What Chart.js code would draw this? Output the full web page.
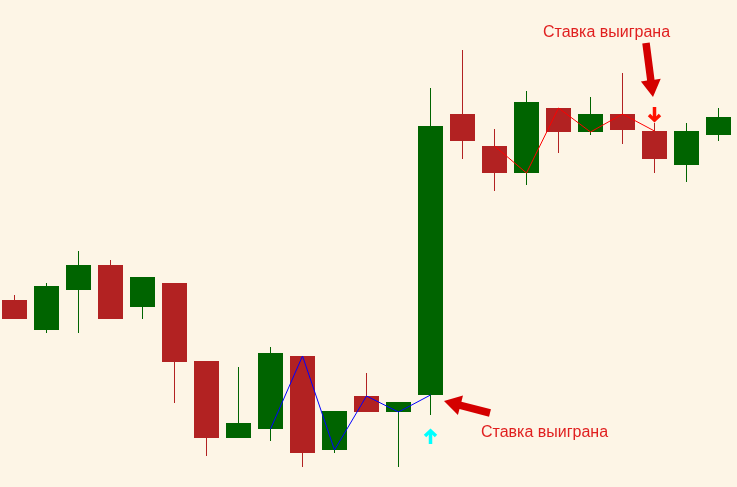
<!DOCTYPE html>
<html><head><meta charset="utf-8">
<script src="https://cdn.jsdelivr.net/npm/chart.js@4.4.1/dist/chart.umd.min.js"></script>
<style>html,body{margin:0;padding:0;background:#fdf5e6;overflow:hidden}canvas{display:block}</style>
</head><body><canvas id="c" width="737" height="487"></canvas>
<script>
// candle index (bars, left to right)
const bars  = [0,1,2,3,4,5,6,7,8,9,10,11,12,13,14,15,16,17,18,19,20,21,22];
const open  = [187,157,197,222,180,204,126, 49, 58,131, 37, 91, 75, 92,373,341,314,379,355,373,356,322,352];
const high  = [192,204,236,227,210,204,126,120,140,131, 76,114, 85,399,437,358,396,379,390,414,364,364,379];
const low   = [168,154,154,168,168, 84, 31, 49, 46, 20, 34, 75, 20, 72,328,296,302,334,352,343,314,305,346];
const close = [168,201,222,168,210,125, 49, 64,134, 34, 76, 75, 85,361,346,314,385,355,373,357,328,356,370];
// zigzag lines through the opens
const blueLineBars = [8,9,10,11,12,13];
const redLineBars  = [15,16,17,18,19,20];
// signals
const buySignalBar = 13;   // won bet, cyan up arrow below
const sellSignalBar = 20;  // won bet, red down arrow above
const labelText = "Ставка выиграна";

const UP = '#006400', DOWN = '#b22222';
const col = bars.map(i => close[i] >= open[i] ? UP : DOWN);

function blockArrow(ctx, x1, y1, x2, y2, shaft, head, headLen, color){
  const ang = Math.atan2(y2 - y1, x2 - x1);
  const len = Math.hypot(x2 - x1, y2 - y1);
  ctx.save();
  ctx.translate(x1, y1); ctx.rotate(ang);
  ctx.beginPath();
  ctx.moveTo(0, -shaft/2);
  ctx.lineTo(len - headLen, -shaft/2);
  ctx.lineTo(len - headLen, -head/2);
  ctx.lineTo(len, 0);
  ctx.lineTo(len - headLen, head/2);
  ctx.lineTo(len - headLen, shaft/2);
  ctx.lineTo(0, shaft/2);
  ctx.closePath();
  ctx.fillStyle = color; ctx.fill();
  ctx.restore();
}
function smallArrow(ctx, x, yTip, dir, color){
  // dir = -1 pointing up, +1 pointing down
  ctx.save();
  ctx.strokeStyle = color; ctx.lineWidth = 3.5; ctx.lineCap = 'butt'; ctx.lineJoin = 'miter';
  ctx.beginPath();
  ctx.moveTo(x, yTip - dir*2); ctx.lineTo(x, yTip - dir*14);
  ctx.stroke();
  ctx.beginPath();
  ctx.moveTo(x - 5.5, yTip - dir*6); ctx.lineTo(x, yTip - dir*0.8); ctx.lineTo(x + 5.5, yTip - dir*6);
  ctx.stroke();
  ctx.restore();
}

const annot = {
  id: 'annot',
  afterDatasetsDraw(chart){
    const ctx = chart.ctx, xs = chart.scales.x, ys = chart.scales.y;
    // sell signal
    const sx = xs.getPixelForValue(sellSignalBar), sHigh = ys.getPixelForValue(high[sellSignalBar]);
    smallArrow(ctx, sx, sHigh - 2, 1, '#ff1000');
    blockArrow(ctx, sx - 8.5, sHigh - 80, sx - 1.5, sHigh - 26, 7.5, 20, 17, '#d40000');
    // buy signal
    const bx = xs.getPixelForValue(buySignalBar), bLow = ys.getPixelForValue(low[buySignalBar]);
    const bOpen = ys.getPixelForValue(open[buySignalBar]);
    smallArrow(ctx, bx, bLow + 15, -1, '#00ffff');
    blockArrow(ctx, bx + 59.5, bOpen + 18, bx + 13.5, bOpen + 6, 7.5, 20, 17, '#d40000');
    ctx.save();
    ctx.font = '16px "Liberation Sans", Arial, sans-serif';
    ctx.fillStyle = '#e01f1f';
    ctx.textBaseline = 'alphabetic';
    ctx.fillText(labelText, sx - 111.5, 37);
    ctx.fillText(labelText, bx + 50.5, 437);
    ctx.restore();
  }
};

new Chart(document.getElementById('c'), {
  data: {
    datasets: [
      { type:'line', order:0, data: blueLineBars.map(i => ({x:i, y:open[i]})),
        borderColor:'#0000ff', borderWidth:1, pointRadius:0, tension:0, fill:false },
      { type:'line', order:0, data: redLineBars.map(i => ({x:i, y:open[i]})),
        borderColor:'#ff0000', borderWidth:1, pointRadius:0, tension:0, fill:false },
      { type:'bar', order:1, grouped:false, barThickness:25, inflateAmount:0, borderWidth:0,
        data: bars.map(i => ({x:i, y:[open[i], close[i]]})), backgroundColor: col },
      { type:'bar', order:2, grouped:false, barThickness:1, inflateAmount:0, borderWidth:0,
        data: bars.map(i => ({x:i, y:[low[i], high[i]]})), backgroundColor: col }
    ]
  },
  options: {
    responsive:false, animation:false, devicePixelRatio:1,
    layout:{padding:0},
    plugins:{legend:{display:false}, tooltip:{enabled:false}},
    scales:{
      x:{type:'linear', display:false, min:-14.5/32, max:(737-14.5)/32, offset:false},
      y:{type:'linear', display:false, min:0, max:487}
    }
  },
  plugins:[annot]
});
</script></body></html>
